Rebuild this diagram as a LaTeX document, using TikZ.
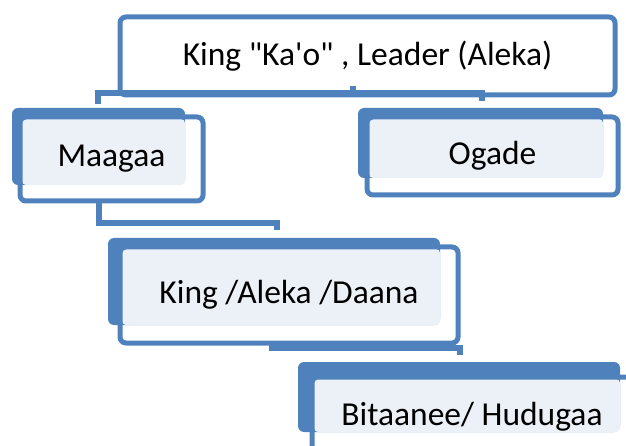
\documentclass[tikz,border=0pt]{standalone}
\usepackage{fontspec}
\setmainfont{Carlito}
\usetikzlibrary{backgrounds}
\pgfdeclarelayer{edgelayer}
\pgfdeclarelayer{nodelayer}
\pgfsetlayers{background,edgelayer,nodelayer,main}
\definecolor{boxblue}{RGB}{79,129,189}
\definecolor{boxtint}{RGB}{236,241,248}
\tikzstyle{none}=[inner sep=0mm]
\tikzstyle{frame}=[draw=boxblue,line width=5pt,rounded corners=6pt,inner sep=0pt,text=black,font=\fontsize{33.5}{40}\selectfont]
\tikzstyle{blueback}=[fill=boxblue,rounded corners=6pt]
\tikzstyle{tint}=[fill=boxtint,rounded corners=4pt]
\tikzstyle{link}=[draw=boxblue,line width=6pt]

\begin{document}
\begin{tikzpicture}[x=1pt,y=-1pt]
	\useasboundingbox (0,0) rectangle (626,446);
	\begin{pgfonlayer}{background}
		\fill [style=blueback] (12,108) rectangle (185,185);
		\fill [style=tint] (22,119) rectangle (185,185);
		\fill [style=blueback] (358,108) rectangle (603,178);
		\fill [style=tint] (369,119) rectangle (603,178);
		\fill [style=blueback] (108,238) rectangle (440,325);
		\fill [style=tint] (122,249) rectangle (440,325);
		\fill [style=blueback] (298,362) rectangle (620,432);
		\fill [style=tint] (314,379) rectangle (620,432);
	\end{pgfonlayer}
	\begin{pgfonlayer}{nodelayer}
		\node [style=frame, minimum width=495pt, minimum height=78pt] (0) at (367.5,56) {King \textquotedbl Ka\textquotesingle o\textquotedbl{} , Leader (Aleka)};
		\node [style=frame, minimum width=183pt, minimum height=84pt] (1) at (111.5,159) {Maagaa};
		\node [style=frame, minimum width=251pt, minimum height=78pt] (2) at (492.5,156) {Ogade};
		\node [style=frame, minimum width=338pt, minimum height=96pt] (3) at (289,295) {King /Aleka /Daana};
		\node [style=frame, minimum width=320pt, minimum height=80pt] (4) at (472,417) {\raisebox{7pt}{Bitaanee/ Hudugaa}};
		\node [style=none] (5) at (353,86) {};
		\node [style=none] (6) at (353,93.5) {};
		\node [style=none] (7) at (97.5,93.5) {};
		\node [style=none] (8) at (97.5,104) {};
		\node [style=none] (9) at (482,93.5) {};
		\node [style=none] (10) at (482,101) {};
		\node [style=none] (11) at (99,201) {};
		\node [style=none] (12) at (99,223) {};
		\node [style=none] (13) at (277,223) {};
		\node [style=none] (14) at (277,230) {};
		\node [style=none] (15) at (272,343) {};
		\node [style=none] (16) at (272,348) {};
		\node [style=none] (17) at (460,348) {};
		\node [style=none] (18) at (460,355) {};
	\end{pgfonlayer}
	\begin{pgfonlayer}{edgelayer}
		\draw [style=link] (5.center) to (6.center) to (7.center) to (8.center);
		\draw [style=link] (6.center) to (9.center) to (10.center);
		\draw [style=link] (11.center) to (12.center) to (13.center) to (14.center);
		\draw [style=link] (15.center) to (16.center) to (17.center) to (18.center);
	\end{pgfonlayer}
\end{tikzpicture}
\end{document}
